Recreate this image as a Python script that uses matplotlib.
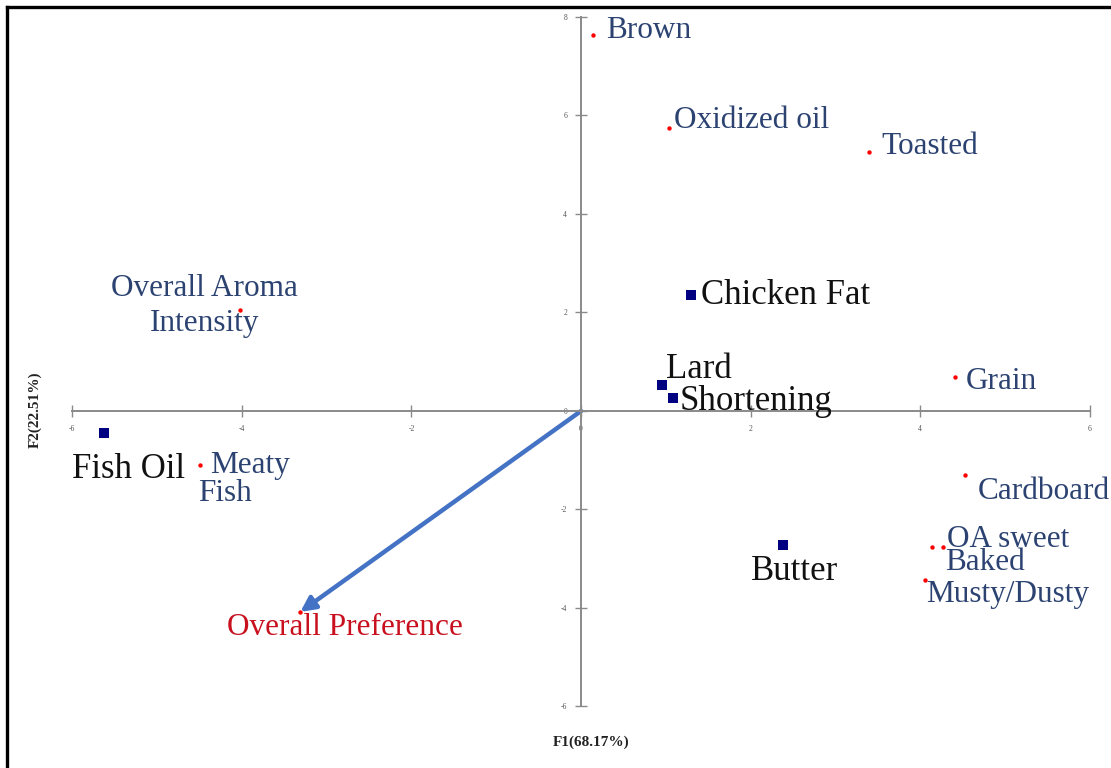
import matplotlib
matplotlib.use("Agg")
import matplotlib.pyplot as plt
from matplotlib.lines import Line2D

# Sensory attributes (loadings, red dots)
attr_names = ["Brown", "Oxidized oil", "Toasted", "Overall Aroma\nIntensity", "Grain",
              "Cardboard", "OA sweet", "Baked", "Musty/Dusty", "Meaty\nFish"]
attr_f1 = [0.14, 1.04, 3.40, -4.02, 4.41, 4.53, 4.14, 4.27, 4.06, -4.49]
attr_f2 = [7.63, 5.75, 5.26, 2.05, 0.69, -1.30, -2.76, -2.76, -3.43, -1.10]

# Samples (scores, navy squares)
prod_names = ["Fish Oil", "Chicken Fat", "Lard", "Shortening", "Butter"]
prod_f1 = [-5.63, 1.30, 0.96, 1.08, 2.38]
prod_f2 = [-0.45, 2.36, 0.53, 0.26, -2.72]

# Supplementary variable (arrow)
pref_name = "Overall Preference"
pref_f1, pref_f2 = -3.31, -4.08

x_ticks = [-6, -4, -2, 0, 2, 4, 6]
y_ticks = [-6, -4, -2, 0, 2, 4, 6, 8]
x_title = "F1(68.17%)"
y_title = "F2(22.51%)"

# label placement (pixel offsets from each point)
attr_offsets = [[(13, 5)], [(5, 7)], [(12, 5)], [(-36, 4)], [(11, -5)],
                [(13, -16)], [(15, 7)], [(2, -16)], [(1, -15)], [(10, 0), (-2, -28)]]
attr_ha = ["left", "left", "left", "center", "left", "left", "left", "left", "left", "left"]
prod_offsets = [(-32, -36), (10, -1), (4, 15), (7, -3), (-32, -27)]
pref_offset = (-73, -16)

serif = ["Liberation Serif", "DejaVu Serif"]
attr_color = "#2C4372"
grey = "#8a8a8a"

fig = plt.figure(figsize=(11.11, 7.68), dpi=100)
ax = fig.add_axes([0.065, 0.0801, 0.916, 0.8978])
ax.set_xlim(-6, 6)
ax.set_ylim(-6, 8)

for side in ["left", "bottom"]:
    ax.spines[side].set_position(("data", 0))
    ax.spines[side].set_color(grey)
    ax.spines[side].set_linewidth(1.4)
for side in ["top", "right"]:
    ax.spines[side].set_visible(False)

ax.set_xticks(x_ticks)
ax.set_yticks(y_ticks)
ax.set_xticklabels([str(v) for v in x_ticks])
ax.set_yticklabels([str(v) for v in y_ticks])
ax.tick_params(direction="inout", length=8, width=1.0, color=grey,
               labelsize=5.5, labelcolor="#555555", pad=6)
for lab in ax.get_xticklabels() + ax.get_yticklabels():
    lab.set_fontfamily(serif)

# arrow for the supplementary variable
ax.annotate("", xy=(pref_f1, pref_f2), xytext=(0, 0),
            arrowprops=dict(arrowstyle="-|>", color="#4472C4", lw=3.2,
                            mutation_scale=22, shrinkA=0, shrinkB=0), zorder=2)

# attribute points and labels
ax.scatter(attr_f1, attr_f2, s=10, color="#FF0000", zorder=3, linewidths=0)
ax.scatter([pref_f1], [pref_f2], s=10, color="#FF0000", zorder=3, linewidths=0)
for name, x, y, offs, ha in zip(attr_names, attr_f1, attr_f2, attr_offsets, attr_ha):
    if len(offs) == 1:
        ax.annotate(name, (x, y), xytext=offs[0], textcoords="offset pixels",
                    ha=ha, va="center", multialignment="center",
                    fontsize=22.5, color=attr_color, family=serif, linespacing=1.3)
    else:
        for line, off in zip(name.split("\n"), offs):
            ax.annotate(line, (x, y), xytext=off, textcoords="offset pixels",
                        ha=ha, va="center", fontsize=22.5, color=attr_color, family=serif)

ax.annotate(pref_name, (pref_f1, pref_f2), xytext=pref_offset, textcoords="offset pixels",
            ha="left", va="center", fontsize=22.5, color="#C8101E", family=serif)

# sample points and labels
ax.scatter(prod_f1, prod_f2, s=55, marker="s", color="#000080", zorder=3, linewidths=0)
for name, x, y, off in zip(prod_names, prod_f1, prod_f2, prod_offsets):
    ax.annotate(name, (x, y), xytext=off, textcoords="offset pixels",
                ha="left", va="center", fontsize=25, color="#111111", family=serif)

# axis titles
fig.text(591 / 1111, 1 - 742 / 768, x_title, ha="center", va="center",
         fontsize=11, fontweight="bold", family=serif, color="#222222")
fig.text(35 / 1111, 1 - 410 / 768, y_title, ha="center", va="center", rotation=90,
         fontsize=11, fontweight="bold", family=serif, color="#222222")

# frame lines along the top and left edges
fig.add_artist(Line2D([7 / 1111, 7 / 1111], [0, 1 - 7 / 768], color="black", lw=2.4,
                      transform=fig.transFigure, solid_capstyle="projecting"))
fig.add_artist(Line2D([7 / 1111, 1], [1 - 7 / 768, 1 - 7 / 768], color="black", lw=2.4,
                      transform=fig.transFigure, solid_capstyle="projecting"))

fig.savefig("out.png", dpi=100, facecolor="white")
